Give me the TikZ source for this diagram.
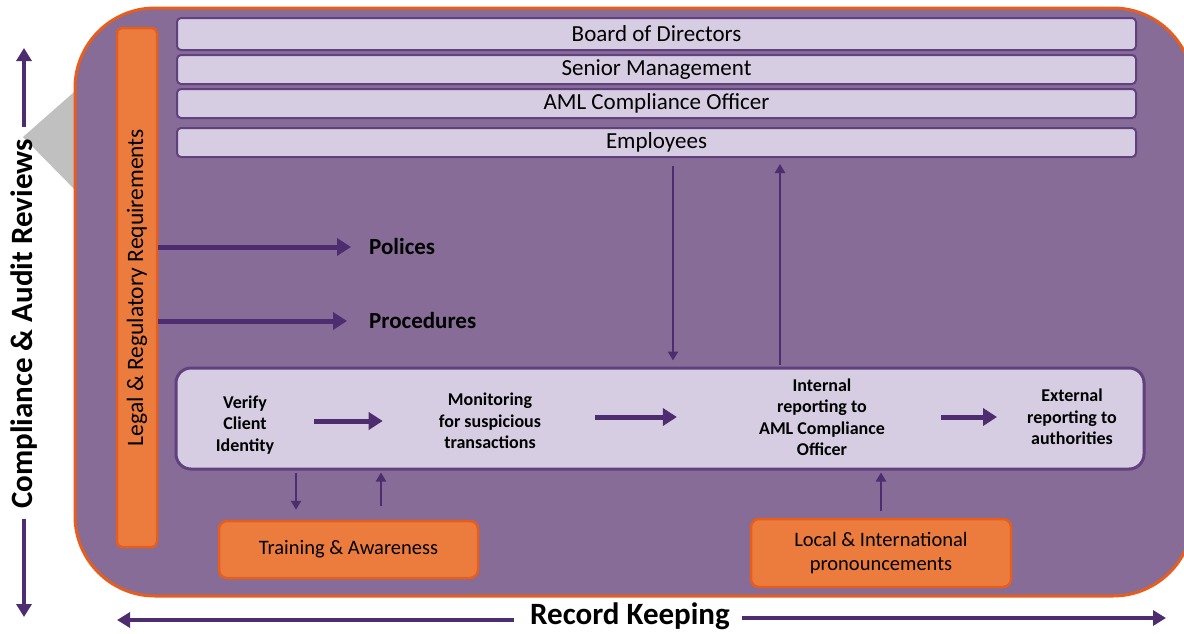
\documentclass[tikz,border=0pt]{standalone}
\usepackage{fontspec}
\setmainfont{Carlito}
\usetikzlibrary{arrows.meta}

\definecolor{mainfill}{RGB}{134,108,150}
\definecolor{orangeline}{RGB}{230,94,30}
\definecolor{barfill}{RGB}{215,205,226}
\definecolor{barline}{RGB}{96,64,126}
\definecolor{arrowcol}{RGB}{78,44,112}
\definecolor{orangefill}{RGB}{236,124,62}
\definecolor{calloutgray}{RGB}{192,192,192}

\tikzset{
  tierbar/.style={draw=barline, line width=2pt, fill=barfill, rounded corners=4pt,
    minimum width=959pt, inner sep=0pt, font=\fontsize{23}{27}\selectfont},
  orangebox/.style={draw=orangeline, line width=2.5pt, fill=orangefill, rounded corners=8pt,
    inner sep=0pt, align=center, font=\fontsize{20.5}{24.5}\selectfont},
  stagetext/.style={align=center, inner sep=0pt, font=\bfseries\fontsize{18}{21.5}\selectfont},
  boldlabel/.style={anchor=west, inner sep=0pt, font=\bfseries\fontsize{23}{27}\selectfont},
  sidelabel/.style={inner sep=0pt, font=\bfseries\fontsize{31}{36}\selectfont},
  fatarrow/.style={draw=arrowcol, line width=5pt, -{Triangle[length=14pt,width=17pt]}},
  slimarrow/.style={draw=arrowcol, line width=2.5pt, -{Triangle[length=9pt,width=10pt]}},
  axisarrow/.style={draw=arrowcol, line width=4pt, -{Triangle[length=13pt,width=15pt]}},
}

\begin{document}
\begin{tikzpicture}[x=1pt,y=-1pt]
\useasboundingbox (0,0) rectangle (1184,633);

% callout wedge behind the frame
\fill[calloutgray] (23,137) -- (82,85) -- (82,197) -- cycle;

% main frame, its right side running past the page edge
\begin{scope}
  \clip (0,0) rectangle (1184,633);
  \draw[draw=orangeline, line width=3pt, fill=mainfill, rounded corners=80pt]
    (75,8) rectangle (1193,596);
\end{scope}

% hierarchy bars
\node[tierbar, minimum height=32pt] (board)  at (656.5,34)  {Board of Directors};
\node[tierbar, minimum height=29pt] (senior) at (656.5,69.5) {Senior Management};
\node[tierbar, minimum height=29pt] (amlco)  at (656.5,103.5) {AML Compliance Officer};
\node[tierbar, minimum height=29pt] (emp)    at (656.5,142.5) {Employees};

% legal requirements column
\node[orangebox, rotate=90, minimum width=519pt, minimum height=40pt, rounded corners=5pt,
  font=\fontsize{23.5}{27}\selectfont] (legal) at (137,287.5) {Legal \& Regulatory Requirements};

% policies and procedures
\node[boldlabel] (pol)  at (369,247) {Polices};
\node[boldlabel] (proc) at (369,321) {Procedures};
\draw[fatarrow] (legal.south |- pol.west) -- ([xshift=-18pt]pol.west);
\draw[fatarrow] (legal.south |- proc.west) -- ([xshift=-22pt]proc.west);

% process strip
\node[draw=barline, line width=3pt, fill=barfill, rounded corners=15pt,
  minimum width=968pt, minimum height=101pt] (flow) at (660,418.5) {};
\node[stagetext] (verify)   at (245,425) {Verify\\Client\\Identity};
\node[stagetext] (monitor)  at (490,421) {Monitoring\\for suspicious\\transactions};
\node[stagetext] (internal) at (822,417) {Internal\\reporting to\\AML Compliance\\Officer};
\node[stagetext] (external) at (1072,417) {External\\reporting to\\authorities};
\draw[fatarrow, shorten <=40pt, shorten >=56pt] (verify.east |- monitor.west) -- (monitor.west);
\draw[fatarrow, shorten <=54pt, shorten >=82pt] (monitor.east |- internal.west) -- (internal.west);
\draw[fatarrow, shorten <=56pt, shorten >=30pt] (internal.east) -- (external.west);

% links between employees and the process strip
\coordinate (downx) at (673,0);
\coordinate (upx)   at (780,0);
\draw[slimarrow, shorten <=8pt, shorten >=6pt] (emp.south -| downx) -- (flow.north -| downx);
\draw[slimarrow, shorten <=2pt, shorten >=6pt] (flow.north -| upx) -- (emp.south -| upx);

% supporting boxes
\node[orangebox, minimum width=259pt, minimum height=57pt] (train) at (348.5,549.5) {Training \& Awareness};
\node[orangebox, minimum width=260pt, minimum height=68pt] (local) at (881,553) {Local \& International\\pronouncements};
\coordinate (tdown) at (296,0);
\coordinate (tup)   at (381,0);
\coordinate (lup)   at (881,0);
\draw[slimarrow, shorten <=2pt, shorten >=10pt] (flow.south -| tdown) -- (train.north -| tdown);
\draw[slimarrow, shorten <=14pt, shorten >=2pt] (train.north -| tup) -- (flow.south -| tup);
\draw[slimarrow, shorten <=7pt, shorten >=2pt] (local.north -| lup) -- (flow.south -| lup);

% review and record keeping axes
\node[sidelabel, rotate=90] (comp) at (24,324) {Compliance \& Audit Reviews};
\coordinate (ctop) at (24,48);
\coordinate (cbot) at (24,617);
\draw[axisarrow, shorten <=12pt] (comp.east) -- (ctop);
\draw[axisarrow, shorten <=10pt] (comp.west) -- (cbot);

\node[sidelabel] (rec) at (630,616) {Record Keeping};
\coordinate (rleft)  at (117,620);
\coordinate (rright) at (1166,618);
\draw[axisarrow, shorten <=16pt] (rec.west |- rleft) -- (rleft);
\draw[axisarrow, shorten <=12pt] (rec.east |- rright) -- (rright);
\end{tikzpicture}
\end{document}
